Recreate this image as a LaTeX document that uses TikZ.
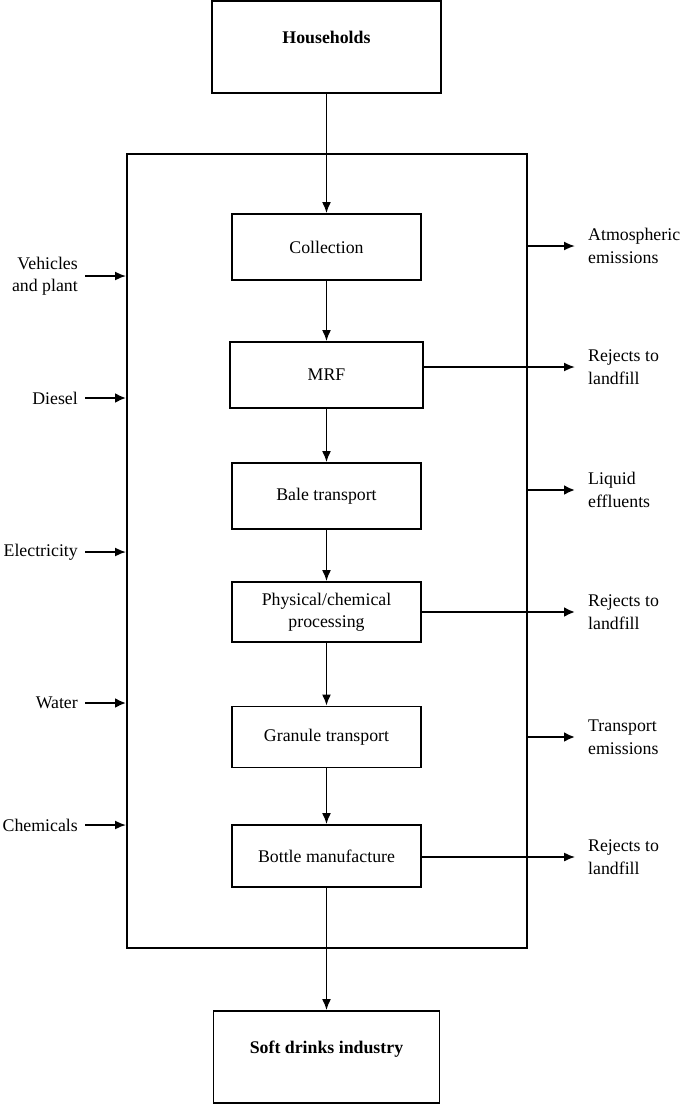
\documentclass[tikz,border=0pt]{standalone}
\usepackage{fontspec}
\setmainfont{Liberation Serif}
\usetikzlibrary{arrows.meta}
\begin{document}
\begin{tikzpicture}[x=1pt,y=-1pt,
  every node/.style={font=\fontsize{17.8}{22.5}\selectfont},
  box/.style={draw,line width=1.8pt,minimum width=189pt,minimum height=66pt,inner sep=0pt,align=center},
  endbox/.style={draw,line width=1.8pt,minimum width=229pt,minimum height=92pt,inner sep=0pt,text depth=19pt,font=\fontsize{17.8}{22.5}\selectfont\bfseries},
  sysbox/.style={draw,line width=1.9pt,minimum width=400pt,minimum height=794pt,inner sep=0pt},
  flow/.style={line width=1.8pt,-{Latex[length=11pt,width=9pt]}},
  thickflow/.style={line width=2.6pt,-{Latex[length=11pt,width=10pt]}},
  inlab/.style={anchor=east,align=right,inner xsep=7pt,inner ysep=0pt},
  outlab/.style={anchor=west,align=left,inner xsep=13pt,inner ysep=0pt}]
\useasboundingbox (0,0) rectangle (685,1104);
\fill[white] (0,0) rectangle (685,1104);

\node[sysbox] (sys) at (327,551) {};
\node[endbox] (hh) at (326.5,47) {Households};
\node[box] (col) at (326.5,247) {Collection};
\node[box,minimum width=193pt] (mrf) at (326.5,375) {MRF};
\node[box] (bale) at (326.5,496) {Bale transport};
\node[box,minimum height=60pt] (phys) at (326.5,612) {Physical/chemical\\processing};
\node[box,minimum height=61pt] (gran) at (326.5,737) {Granule transport};
\node[box,minimum height=62pt] (bott) at (326.5,856) {Bottle manufacture};
\node[endbox,minimum width=226pt] (soft) at (326.5,1057) {Soft drinks industry};

\draw[flow] (hh.south) -- (col.north);
\draw[flow] (col.south) -- (mrf.north);
\draw[flow] (mrf.south) -- (bale.north);
\draw[flow] (bale.south) -- (phys.north);
\draw[flow] (phys.south) -- (gran.north);
\draw[flow] (gran.south) -- (bott.north);
\draw[flow] (bott.south) -- (soft.north);

% inputs
\node[inlab] (veh) at (85,276) {Vehicles\\and plant};
\node[inlab] (die) at (85,398) {Diesel};
\node[inlab] (ele) at (85,552) {Electricity};
\node[inlab] (wat) at (85,703) {Water};
\node[inlab] (che) at (85,825) {Chemicals};
\draw[flow] (veh.east) -- (sys.west |- veh.east);
\draw[thickflow] (die.east) -- (sys.west |- die.east);
\draw[flow] (ele.east) -- (sys.west |- ele.east);
\draw[thickflow] (wat.east) -- (sys.west |- wat.east);
\draw[flow] (che.east) -- (sys.west |- che.east);

% outputs
\node[outlab] (atm) at (575,246) {Atmospheric\\emissions};
\node[outlab] (rej1) at (575,367) {Rejects to\\landfill};
\node[outlab] (liq) at (575,490) {Liquid\\effluents};
\node[outlab] (rej2) at (575,612) {Rejects to\\landfill};
\node[outlab] (tra) at (575,737) {Transport\\emissions};
\node[outlab] (rej3) at (575,857) {Rejects to\\landfill};
\draw[flow] (sys.east |- atm.west) -- (atm.west);
\draw[flow] (mrf.east |- rej1.west) -- (rej1.west);
\draw[thickflow] (sys.east |- liq.west) -- (liq.west);
\draw[thickflow] (phys.east |- rej2.west) -- (rej2.west);
\draw[thickflow] (sys.east |- tra.west) -- (tra.west);
\draw[flow,line width=1.4pt] (bott.east |- rej3.west) -- (rej3.west);
\end{tikzpicture}
\end{document}
